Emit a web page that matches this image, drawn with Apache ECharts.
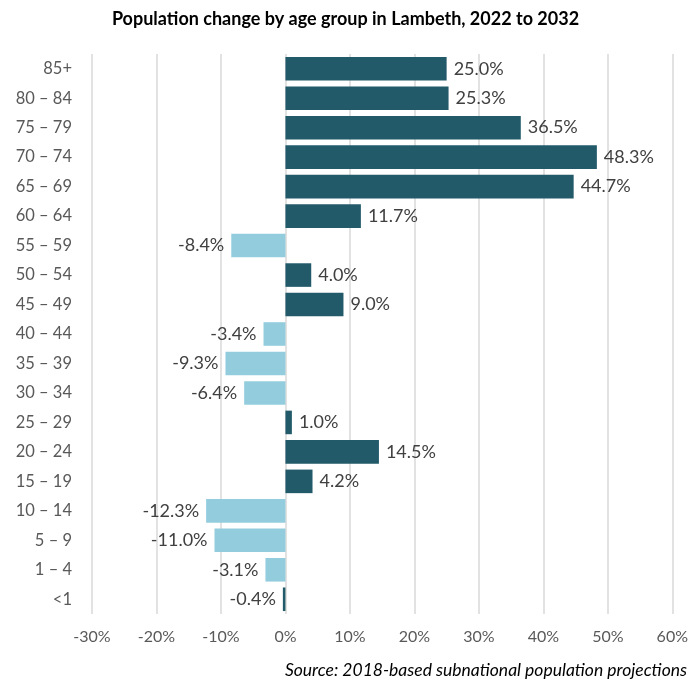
<!DOCTYPE html>
<html>
<head>
<meta charset="utf-8">
<script src="https://cdn.jsdelivr.net/npm/echarts@6/dist/echarts.min.js"></script>
<style>
  html, body { margin: 0; padding: 0; background: #fff; }
  #chart { width: 691px; height: 681px; }
</style>
</head>
<body>
<div id="chart"></div>
<script>
// age groups, top to bottom as shown
const ageGroups = ["85+", "80 – 84", "75 – 79", "70 – 74", "65 – 69", "60 – 64", "55 – 59",
  "50 – 54", "45 – 49", "40 – 44", "35 – 39", "30 – 34", "25 – 29", "20 – 24",
  "15 – 19", "10 – 14", "5 – 9", "1 – 4", "<1"];
// % change 2022 to 2032
const changePct = [25.0, 25.3, 36.5, 48.3, 44.7, 11.7, -8.4, 4.0, 9.0, -3.4, -9.3, -6.4,
  1.0, 14.5, 4.2, -12.3, -11.0, -3.1, -0.4];
// bars drawn in the light colour
const lightBars = ["55 – 59", "40 – 44", "35 – 39", "30 – 34", "10 – 14", "5 – 9", "1 – 4"];
const xTicks = [-30, 60, 10]; // min, max, step

const dark = "#225A69";
const light = "#93CDDD";
const font = "Lato, 'Open Sans', sans-serif";

const chart = echarts.init(document.getElementById("chart"));

// echarts category axis goes bottom-up, so reverse
const cats = ageGroups.slice().reverse();
const vals = changePct.slice().reverse();

chart.setOption({
  animation: false,
  title: {
    text: "Population change by age group in Lambeth, 2022 to 2032",
    left: "center",
    top: 5,
    textStyle: { fontFamily: font, fontSize: 18, fontWeight: "bold", color: "#000" }
  },
  graphic: [{
    type: "text",
    right: 4,
    top: 661,
    style: {
      text: "Source: 2018-based subnational population projections",
      font: "italic 17.5px " + font,
      fill: "#000"
    }
  }],
  grid: { left: 92, right: 17, top: 54, bottom: 67, containLabel: false },
  xAxis: {
    type: "value",
    min: xTicks[0],
    max: xTicks[1],
    interval: xTicks[2],
    axisLine: { show: false },
    axisTick: { show: false },
    axisLabel: {
      formatter: v => v + "%",
      color: "#595959",
      fontFamily: font,
      fontSize: 16,
      margin: 15
    },
    splitLine: { lineStyle: { color: "#D9D9D9", width: 1.5 } }
  },
  yAxis: {
    type: "category",
    data: cats,
    axisLine: { show: false },
    axisTick: { show: false },
    axisLabel: { color: "#595959", fontFamily: font, fontSize: 16.5, margin: 20 }
  },
  series: [{
    type: "bar",
    barCategoryGap: "20%",
    data: vals.map((v, i) => ({
      value: v,
      itemStyle: { color: lightBars.includes(cats[i]) ? light : dark },
      label: { position: v < 0 ? "left" : "right" }
    })),
    label: {
      show: true,
      distance: 7,
      formatter: p => p.value.toFixed(1) + "%",
      color: "#404040",
      fontFamily: font,
      fontSize: 18
    }
  }]
});
</script>
</body>
</html>
